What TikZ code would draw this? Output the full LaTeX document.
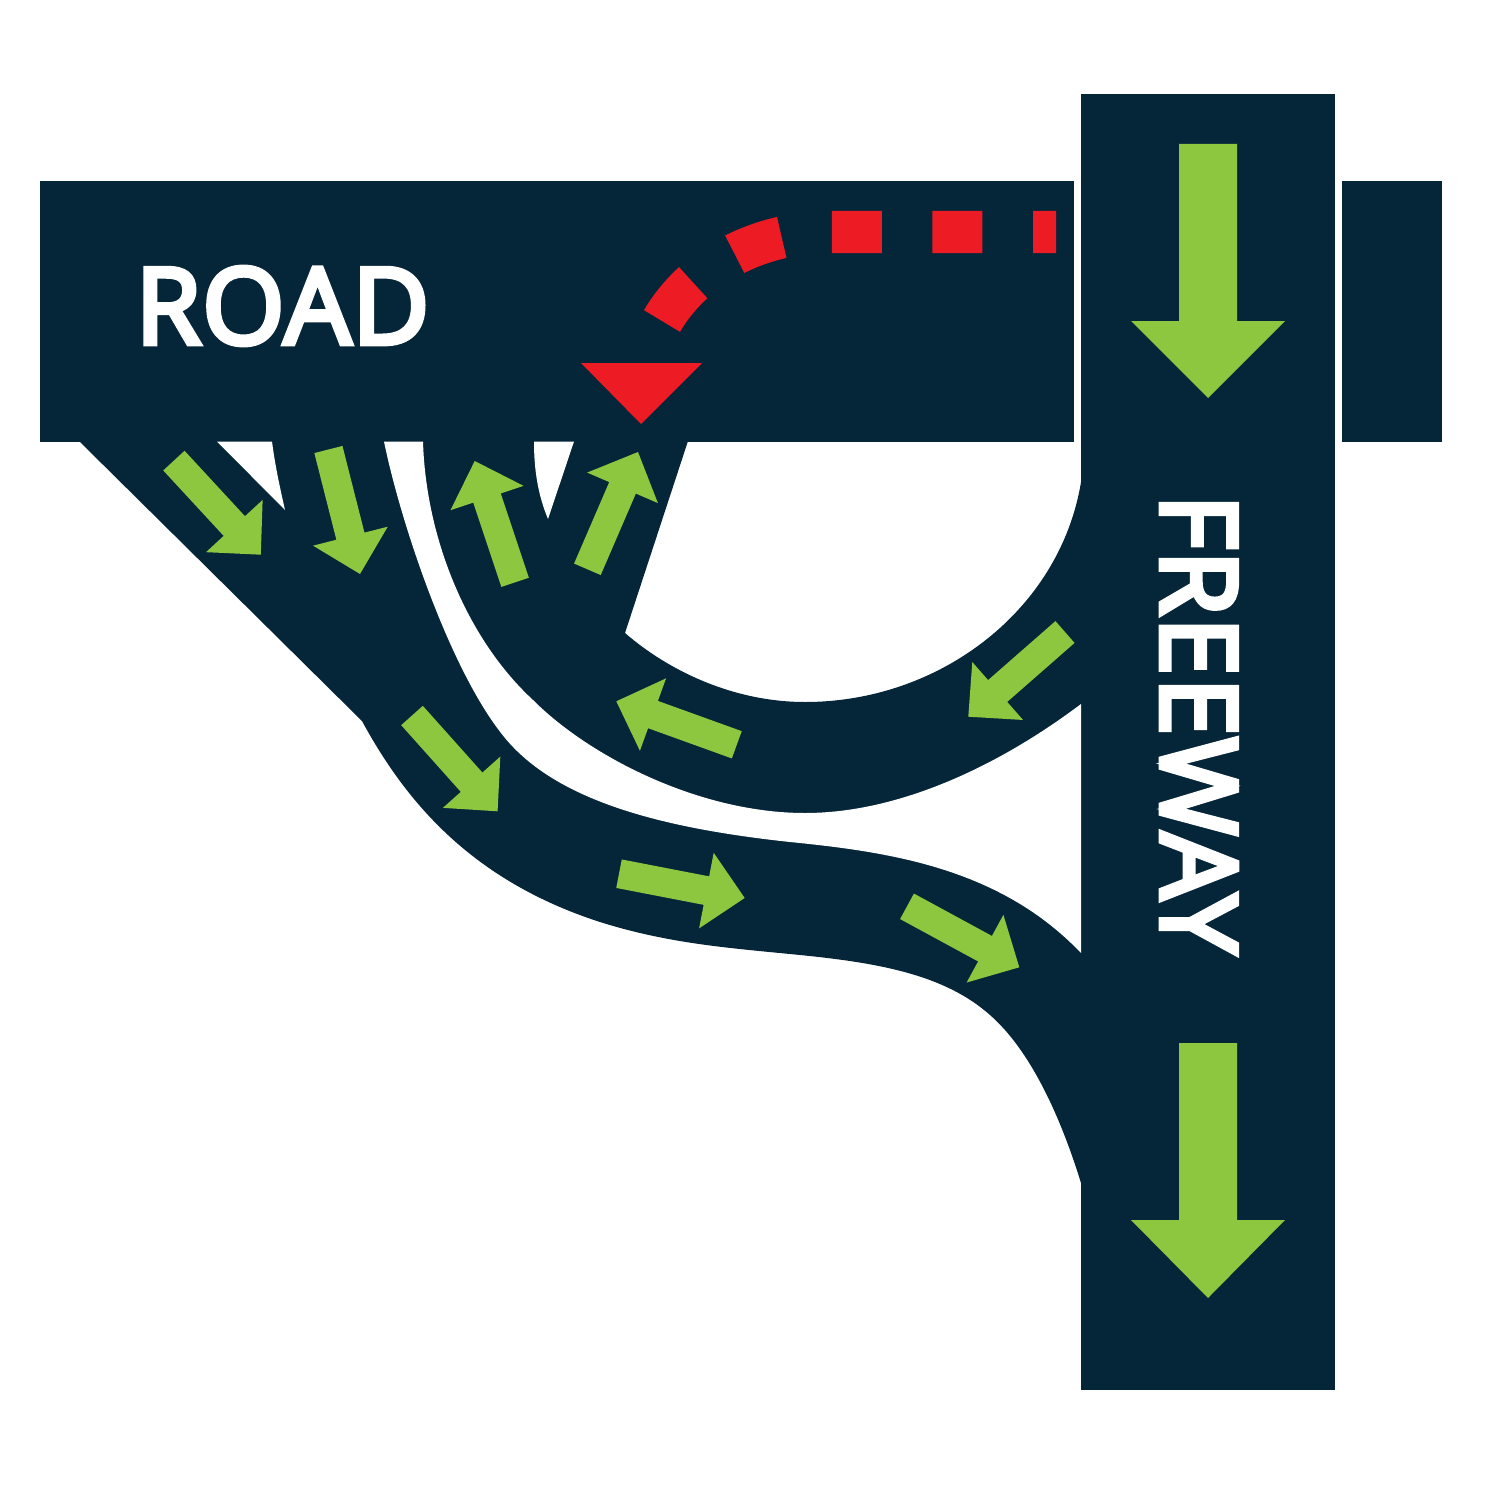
\documentclass[tikz,border=0pt]{standalone}
\usepackage{fontspec}
\setmainfont{Open Sans}
\newfontfamily\labelfont{Open Sans}[FakeBold=5, LetterSpace=1.5]
\usetikzlibrary{calc}
\definecolor{road_navy}{RGB}{5, 37, 57}
\definecolor{flow_green}{RGB}{141, 198, 63}
\definecolor{wrong_red}{RGB}{237, 28, 36}

% Arrow from tail to tip, fixed shaft and head size
\newcommand{\flowarrow}[2]{%
    \fill[flow_green]
        ($(#1)!0.145cm!90:(#2)$) --
        ($(#2)!0.39cm!(#1)!0.145cm!-90:(#1)$) --
        ($(#2)!0.39cm!(#1)!0.385cm!-90:(#1)$) --
        (#2) --
        ($(#2)!0.39cm!(#1)!0.385cm!90:(#1)$) --
        ($(#2)!0.39cm!(#1)!0.145cm!90:(#1)$) --
        ($(#1)!0.145cm!-90:(#2)$) -- cycle;%
}

\begin{document}
\begin{tikzpicture}[
    x=0.01cm, y=-0.01cm,
    road/.style={fill=road_navy},
    gap/.style={fill=white},
    label_text/.style={text=white, font=\fontsize{30}{31}\selectfont\labelfont, inner sep=0pt}
]
    \useasboundingbox (0,0) rectangle (1500,1500);

    % ==========================================
    % 1. CARRIAGEWAYS
    % ==========================================

    \fill[road] (40,181) rectangle (1074,441.5);
    \fill[road] (1342,181) rectangle (1442,441.5);
    \fill[road] (1081,94) rectangle (1335,1390);

    % Ramps
    \fill[road] (79,441) -- (362,721)
        .. controls (405,800) and (470,880) .. (600,922)
        .. controls (670,944) and (730,948) .. (800,955)
        .. controls (880,963) and (945,975) .. (990,1015)
        .. controls (1030,1050) and (1060,1115) .. (1081,1183)
        -- (1081,482)
        .. controls (1060,610) and (940,702) .. (805,702)
        .. controls (735,702) and (670,672) .. (625,633)
        -- (688,441) -- cycle;

    % Gaps between ramps
    \fill[gap] (384,441.5) -- (423,441.5)
        .. controls (426,540) and (468,640) .. (533,700)
        .. controls (590,757) and (700,813) .. (805,813)
        .. controls (900,813) and (1000,765) .. (1081,704)
        -- (1081,953)
        .. controls (1000,868) and (890,852) .. (790,842)
        .. controls (660,828) and (552,800) .. (501,733)
        .. controls (448,665) and (400,520) .. (384,441.5) -- cycle;
    \fill[gap] (217,441.5) -- (272,441.5)
        .. controls (275,465) and (280,488) .. (285,510) -- cycle;
    \fill[gap] (534,441.5) -- (574,441.5) -- (548,519)
        .. controls (538,495) and (534,470) .. (534,441.5) -- cycle;

    % ==========================================
    % 2. FLOW ARROWS
    % ==========================================

    \fill[flow_green] (1179,144) -- (1237,144) -- (1237,321) -- (1285,321)
        -- (1208,398) -- (1131,321) -- (1179,321) -- cycle;
    \fill[flow_green] (1179,1043) -- (1237,1043) -- (1237,1220) -- (1285,1220)
        -- (1208,1298) -- (1131,1220) -- (1179,1220) -- cycle;

    \foreach \tx/\ty/\hx/\hy in {
        173.9/460.6/260.8/554.7, 328.4/449.5/360/574,
        515.1/582.3/474.7/461, 587.4/569.3/638/452,
        1065/632/968.3/716.7, 736.8/744.8/616.3/701.3,
        412/715.5/497.6/811.3, 619/873.7/744.7/898,
        907/906.3/1019.3/967.3}
    {
        \flowarrow{\tx,\ty}{\hx,\hy}
    }

    % ==========================================
    % 3. WRONG WAY ROUTE
    % ==========================================

    \draw[wrong_red, line width=0.42cm, dash pattern=on 0.5cm off 0.505cm, dash phase=0.27cm]
        (1056,232) -- (831,232)
        .. controls (760,232) and (695,265) .. (662,321);
    \fill[wrong_red] (581,363) -- (702,363) -- (641,424) -- cycle;

    % ==========================================
    % 4. LABELS
    % ==========================================

    \node (road_label) [label_text, anchor=west] at (135,306) {ROAD};
    \node (freeway_label) [label_text, rotate=-90] at (1199,724) {FREEWAY};

\end{tikzpicture}
\end{document}
